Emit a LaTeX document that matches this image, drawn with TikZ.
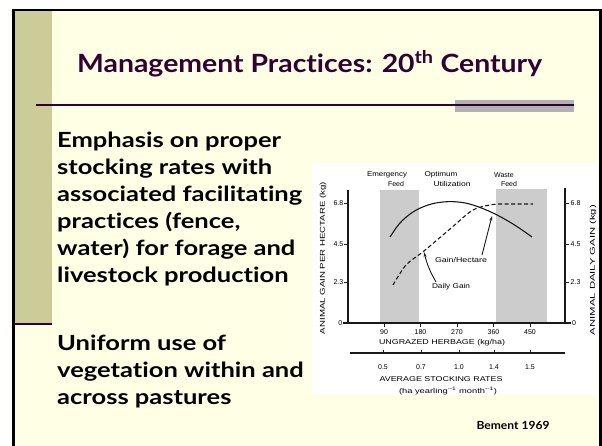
\documentclass[tikz,border=0pt]{standalone}
\usepackage{fontspec}
\usepackage{graphicx}
\usetikzlibrary{arrows.meta}
\newfontfamily\latofont{Lato}[Ligatures={NoCommon,NoRare,NoContextual}]
\newfontfamily\chartfont{Liberation Sans}
\definecolor{cream}{HTML}{FFFFE5}
\definecolor{olivebar}{HTML}{CCCC99}
\definecolor{plum}{HTML}{330033}
\definecolor{barg}{HTML}{B2B2B2}
\definecolor{band}{HTML}{CCCCCC}
\newdimen\reflen
\newcommand\fitw[2]{\resizebox{#1}{\height}{#2}}
\newcommand\bodyfont{\latofont\bfseries\fontsize{20.9}{25}\selectfont}
\AtBeginDocument{%
  \setbox0=\hbox{\bodyfont associated facilitating}%
  \reflen=\wd0
  \pgfmathsetmacro\tmpfac{245pt/\reflen}%
  \xdef\bfac{\tmpfac}}
\tikzset{
  bodyline/.style={font=\bodyfont, text=black, inner sep=0pt, anchor=base west},
  chartlbl/.style={font=\chartfont\fontsize{7}{8}\selectfont, text=black, inner sep=0pt},
  ticklbl/.style={font=\chartfont\fontsize{7}{8}\selectfont, text=black, inner sep=0pt},
  axisline/.style={draw=black!90, line width=1.1pt},
  curve/.style={draw=black!90, line width=1.1pt},
}
\begin{document}
\begin{tikzpicture}[x=1pt,y=-1pt]
\useasboundingbox (0,0) rectangle (602,446);
% slide background
\fill[white] (0,0) rectangle (602,446);
\fill[cream] (13,10) rectangle (600,446);
\fill[olivebar] (14,11) rectangle (52,323);
\draw[line width=2.5pt] (13.25,446) -- (13.25,10.25) -- (600.3,10.25) -- (600.3,446);
\draw[plum, line width=2pt] (14,324) -- (52,324);
% title rule
\fill[barg] (455,100) rectangle (574,111.7);
\draw[plum, line width=2pt] (36,104.7) -- (574,104.7);
% title
\node[anchor=base west, inner sep=0pt, text=plum, font=\latofont\bfseries\fontsize{25.1}{30}\selectfont] (title) at (77,73)
  {\fitw{465pt}{Management Practices: 20\textsuperscript{th} Century}};
% body text
\node[bodyline] (b1) at (57,148) {\scalebox{\bfac}[1]{Emphasis on proper}};
\node[bodyline] (b2) at (57,175) {\scalebox{\bfac}[1]{stocking rates with}};
\node[bodyline] (b3) at (57,202) {\scalebox{\bfac}[1]{associated facilitating}};
\node[bodyline] (b4) at (57,229) {\scalebox{\bfac}[1]{practices (fence,}};
\node[bodyline] (b5) at (57,256) {\scalebox{\bfac}[1]{water) for forage and}};
\node[bodyline] (b6) at (57,283) {\scalebox{\bfac}[1]{livestock production}};
\node[bodyline] (u1) at (57,350) {\scalebox{\bfac}[1]{Uniform use of}};
\node[bodyline] (u2) at (57,377) {\scalebox{\bfac}[1]{vegetation within and}};
\node[bodyline] (u3) at (57,404) {\scalebox{\bfac}[1]{across pastures}};
\node[anchor=base, inner sep=0pt, font=\latofont\bfseries\fontsize{11.2}{13}\selectfont] (cite) at (513,429)
  {\fitw{73pt}{Bement 1969}};
% ---------- chart ----------
\fill[white] (312,163) rectangle (598,395);
\fill[band] (380,190) rectangle (419,323);
\fill[band] (496,189) rectangle (547,323);
% axes
\draw[axisline] (348,190) -- (348,323);
\draw[axisline] (565,188) -- (565,323);
\draw[axisline] (343,323) -- (571,323);
\foreach \v/\y in {6.8/203,4.5/244,2.3/282}{
  \draw[axisline, line width=0.8pt] (344,\y) -- (348,\y);
  \draw[axisline, line width=0.8pt] (565,\y) -- (569,\y);
  \node[ticklbl, anchor=east] at (343.5,\y) {\v};
  \node[ticklbl, anchor=west] at (570.5,\y) {\v};
}
\node[ticklbl, anchor=east] (y0l) at (342.5,323) {0};
\node[ticklbl, anchor=west] (y0r) at (572,323) {0};
\foreach \v/\x in {90/384,180/420.5,270/457,360/493.5,450/530}{
  \draw[axisline, line width=0.8pt] (\x,323) -- (\x,327);
  \node[ticklbl] at (\x,332.5) {\v};
}
\node[chartlbl] (xl1) at (442,343) {\fitw{126pt}{UNGRAZED HERBAGE (kg/ha)}};
% second axis
\draw[axisline] (350,353) -- (565,353);
\foreach \v/\x in {0.5/383,0.7/421,1.0/459,1.4/494,1.5/530}{
  \draw[axisline, line width=0.8pt] (\x,353) -- (\x,349.5);
  \node[ticklbl] at (\x,367) {\v};
}
\node[chartlbl] (xl2) at (441,379) {\fitw{123pt}{AVERAGE STOCKING RATES}};
\node[chartlbl] (xl3) at (448,391) {\fitw{98pt}{(ha yearling\textsuperscript{--1} month\textsuperscript{--1})}};
% rotated axis labels
\node[chartlbl, rotate=90] (yl) at (323,258) {\fitw{152pt}{ANIMAL GAIN PER HECTARE (kg)}};
\node[chartlbl, rotate=90] (yr) at (593,270) {\fitw{130pt}{ANIMAL DAILY GAIN (kg)}};
% band labels
\node[chartlbl] (em1) at (387,175) {\fitw{40pt}{Emergency}};
\node[chartlbl] (em2) at (396,184) {Feed};
\node[chartlbl] (op1) at (441,175) {\fitw{33pt}{Optimum}};
\node[chartlbl] (op2) at (452,184) {\fitw{37pt}{Utilization}};
\node[chartlbl] (wa1) at (504,175) {Waste};
\node[chartlbl] (wa2) at (509,184) {Feed};
% curves
\draw[curve] plot[smooth, tension=0.6] coordinates {(390,237) (400,223) (413,212) (428,205) (443,202) (458,202) (473,205) (493,213) (513,224) (532,237)};
\draw[curve, dash pattern=on 4pt off 2.5pt] plot[smooth, tension=0.5] coordinates {(393,285) (406,265) (424,251) (450,229) (473,210) (493,204.5) (510,204) (533,204)};
% curve labels and arrows
\node[chartlbl] (gh) at (461,260) {\fitw{52pt}{Gain/Hectare}};
\node[chartlbl] (dg) at (451,287) {\fitw{38pt}{Daily Gain}};
\coordinate (ghtip) at (492,216);
\coordinate (dgtip) at (424,252);
\draw[curve, line width=0.9pt, -{Stealth[length=5pt,width=3pt]}] (482,255) -- (ghtip);
\draw[curve, line width=0.9pt, -{Stealth[length=5pt,width=3pt]}] (436,282) to[bend left=8] (dgtip);
\end{tikzpicture}
\end{document}
